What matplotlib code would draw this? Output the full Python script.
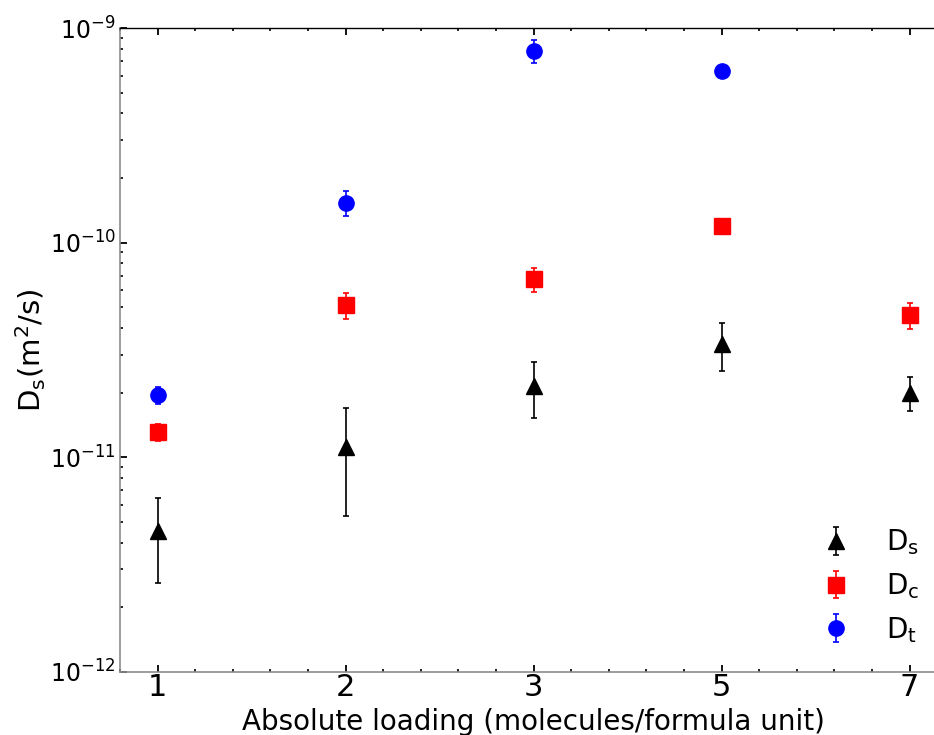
import numpy as np
import matplotlib
matplotlib.use("Agg")
import matplotlib.pyplot as plt
from matplotlib.ticker import MultipleLocator, LogLocator, NullFormatter

# Absolute loading (molecules per formula unit)
loading = ["1", "2", "3", "5", "7"]

# Self diffusivity
ds_val = [4.53e-12, 1.11e-11, 2.15e-11, 3.37e-11, 2.00e-11]
ds_err = [1.95e-12, 5.8e-12, 6.2e-12, 8.4e-12, 3.6e-12]

# Corrected diffusivity
dc_val = [1.31e-11, 5.12e-11, 6.76e-11, 1.195e-10, 4.58e-11]
dc_err = [1.2e-12, 7.0e-12, 8.5e-12, 5.0e-12, 6.3e-12]

# Transport diffusivity (no value at the highest loading)
dt_val = [1.95e-11, 1.53e-10, 7.82e-10, 6.33e-10, np.nan]
dt_err = [1.8e-12, 2.05e-11, 9.7e-11, 2.0e-11, np.nan]

fig = plt.figure(figsize=(9.34, 7.35), dpi=100)
ax = fig.add_axes([0.1285, 0.0861, 0.8856, 0.8758])

x = np.arange(len(loading))
common = dict(linestyle="none", capsize=2.5, elinewidth=1.2, capthick=1.2, markersize=11)
ax.errorbar(x, ds_val, yerr=ds_err, fmt="^", color="black", label=r"$\mathrm{D_s}$", **common)
ax.errorbar(x, dc_val, yerr=dc_err, fmt="s", color="red", label=r"$\mathrm{D_c}$", **common)
ax.errorbar(x, dt_val, yerr=dt_err, fmt="o", color="blue", label=r"$\mathrm{D_t}$", **common)

ax.set_yscale("log")
ax.set_ylim(1e-12, 1e-9)
ax.set_xlim(-0.2, 4.2)
ax.set_xticks(x)
ax.set_xticklabels(loading)
ax.xaxis.set_minor_locator(MultipleLocator(0.2))
ax.yaxis.set_minor_locator(LogLocator(base=10, subs=np.arange(2, 10)))
ax.yaxis.set_minor_formatter(NullFormatter())

ax.tick_params(which="both", direction="in", top=True, right=True)
ax.tick_params(which="major", length=5, width=1.3)
ax.tick_params(which="minor", length=2, width=1.2)
ax.tick_params(axis="x", which="major", labelsize=22, pad=1)
ax.tick_params(axis="y", which="major", labelsize=17, pad=3)

for side in ("left", "bottom"):
    ax.spines[side].set_color("#8c8c8c")
    ax.spines[side].set_linewidth(1.2)
ax.spines["top"].set_color("black")
ax.spines["top"].set_linewidth(1.0)

ax.set_xlabel("Absolute loading (molecules/formula unit)", fontsize=20, labelpad=4)
ax.set_ylabel(r"$\mathrm{D_s (m^2/s)}$", fontsize=21, labelpad=1)

ax.legend(loc="lower right", fontsize=20, frameon=False, numpoints=1,
          bbox_to_anchor=(0.997, 0.003), labelspacing=0.5)

fig.savefig("out.png", dpi=100)
